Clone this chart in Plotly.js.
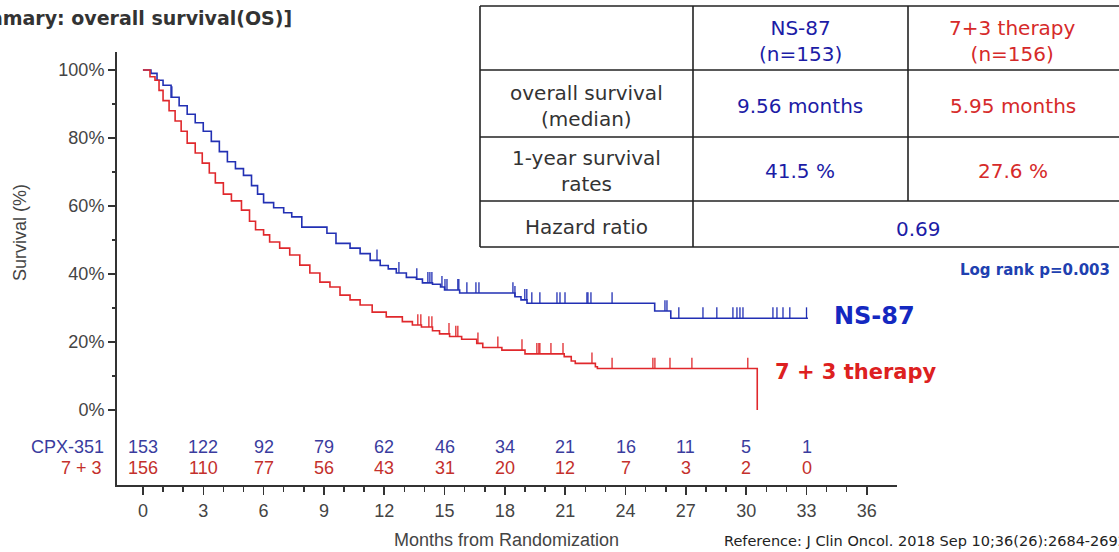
<!DOCTYPE html>
<html>
<head>
<meta charset="utf-8">
<script src="https://cdn.plot.ly/plotly-3.0.1.min.js"></script>
<style>html,body{margin:0;padding:0;background:#fff;}#chart{width:1119px;height:552px;}</style>
</head>
<body>
<div id="chart"></div>
<script>
// ---- data ----
const blueName = "NS-87";
const redName = "7 + 3 therapy";
const blueTimes = [0,0.4,0.7,1.0,1.4,1.8,2.2,2.6,3.0,3.4,3.8,4.2,4.6,5.0,5.4,5.7,6.0,6.5,7.0,7.4,7.9,9.15,9.6,10.3,10.8,11.3,11.8,12.2,12.6,13.1,13.6,13.9,14.4,14.8,15.0,15.75,18.5,18.8,19.1,25.45,26.25,33.07];
const blueSurv  = [100,99,97,95.5,92,89.5,87,84.5,82,79,76,73,71,69,66,63.5,61,59.5,58,56.8,53.8,52,49,47.6,46,44,42.5,41.5,40.3,39,38.5,37.4,37,36.2,35.3,34.4,33.3,32.4,31.4,29.1,27,27];
const redTimes = [0,0.35,0.6,0.8,1.0,1.3,1.6,1.9,2.2,2.6,2.95,3.3,3.6,4.0,4.4,4.9,5.3,5.6,6.0,6.3,6.8,7.3,7.8,8.3,8.8,9.3,9.8,10.3,10.8,11.4,12.1,12.9,13.4,13.85,14.4,14.75,15.25,15.85,16.6,16.9,17.85,19.0,20.95,21.3,21.5,22.5,22.6,30.55];
const redSurv  = [100,98,97,94,91,88,85,82,78.5,75.6,72.6,69.7,66.8,63.5,61.5,58.8,55.5,53,51.5,49.4,47.6,45.6,42.6,40.3,37.6,36.2,33.8,32.4,30.9,28.8,27.4,26,25,24.4,23.3,22.4,21.6,20.8,19.6,18.4,17.6,16.5,15.7,14.4,13.7,12.7,12.2,0];
const blueCensor = [1.44,11.64,12.73,13.62,14.17,14.27,14.37,14.87,15.02,15.12,15.66,15.71,16.11,16.56,16.71,18.4,18.5,18.99,19.09,19.34,19.74,20.59,20.74,20.99,22.08,22.13,22.28,23.33,25.96,26.06,26.65,27.85,28.54,29.34,29.54,29.69,29.84,31.33,31.53,31.83,32.17,33.0];
const redCensor = [13.67,13.82,14.22,14.37,15.22,15.56,15.66,16.66,17.65,18.85,19.59,19.69,19.74,20.29,20.89,22.33,23.33,25.36,25.46,26.21,27.3,30.08];

const riskMonths = [0,3,6,9,12,15,18,21,24,27,30,33];
const blueRisk = [153,122,92,79,62,46,34,21,16,11,5,1];
const redRisk  = [156,110,77,56,43,31,20,12,7,3,2,0];
const riskLabels = ["CPX-351", "7 + 3"];

const xTicks = [0,3,6,9,12,15,18,21,24,27,30,33,36];
const yTicks = [0,20,40,60,80,100];
const yTickText = ["0%","20%","40%","60%","80%","100%"];

const tableHeader = ["NS-87<br>(n=153)", "7+3 therapy<br>(n=156)"];
const tableRowLabels = ["overall survival<br>(median)", "1-year survival<br>rates", "Hazard ratio"];
const medianOS = ["9.56 months", "5.95 months"];
const oneYear = ["41.5 %", "27.6 %"];
const hazardRatio = "0.69";
const logRank = "Log rank p=0.003";
const titleText = "[Summary: overall survival(OS)]";
const refText = "Reference: J Clin Oncol. 2018 Sep 10;36(26):2684-2692";

// ---- styling ----
const BLUE = "#2230b4", RED = "#e0282c";
const TBLUE = "#1c1ca6", TRED = "#d62a2a";
const RBLUE = "#3a3c9e", RRED = "#c4302c";
const L = 117, R = 897, T = 52, B = 485;
const px2x = p => (p - L) / (R - L);
const py2y = p => (B - p) / (B - T);

function stepAt(times, surv, t) {
  let v = surv[0];
  for (let i = 0; i < times.length; i++) { if (times[i] <= t) v = surv[i]; }
  return v;
}
const tickLen = 3.2; // censor tick height in axis units (style)

function censorTrace(ct, times, surv, color) {
  return {
    x: ct, y: ct.map(t => stepAt(times, surv, t)),
    type: "scatter", mode: "markers", marker: {size: 1, opacity: 0, color: color},
    error_y: {type: "data", symmetric: false, array: ct.map(() => tickLen), arrayminus: ct.map(() => 0),
      width: 0, thickness: 1.3, color: color},
    showlegend: false, hoverinfo: "skip", cliponaxis: false
  };
}

const traces = [
  {x: blueTimes, y: blueSurv, type: "scatter", mode: "lines", line: {shape: "hv", color: BLUE, width: 1.6}, name: blueName, showlegend: false},
  {x: redTimes, y: redSurv, type: "scatter", mode: "lines", line: {shape: "hv", color: RED, width: 1.6}, name: redName, showlegend: false},
  censorTrace(blueCensor, blueTimes, blueSurv, BLUE),
  censorTrace(redCensor, redTimes, redSurv, RED)
];

const ann = [];
const axFont = {family: "Liberation Sans, Arial, sans-serif", size: 18};
function A(o) { return Object.assign({showarrow: false, xanchor: "center", yanchor: "middle", xref: "paper", yref: "paper"}, o); }
riskMonths.forEach((m, i) => {
  ann.push(A({x: m, y: -10.9, xref: "x", yref: "y", text: String(blueRisk[i]), font: Object.assign({}, axFont, {color: RBLUE})}));
  ann.push(A({x: m, y: -17.0, xref: "x", yref: "y", text: String(redRisk[i]), font: Object.assign({}, axFont, {color: RRED})}));
});
ann.push(A({x: px2x(106), y: -10.9, yref: "y", xanchor: "right", text: riskLabels[0], font: Object.assign({}, axFont, {color: RBLUE})}));
ann.push(A({x: px2x(104), y: -17.0, yref: "y", xanchor: "right", text: riskLabels[1], font: Object.assign({}, axFont, {color: RRED})}));
// axis titles
ann.push(A({x: px2x(20), y: py2y(233), text: "Survival (%)", textangle: -90, font: Object.assign({}, axFont, {color: "#444"})}));
ann.push(A({x: px2x(506), y: py2y(540), text: "Months from Randomization", font: Object.assign({}, axFont, {color: "#444"})}));
// title and reference
ann.push(A({x: px2x(294), y: py2y(18), xanchor: "right", text: titleText, font: {family: "DejaVu Sans", size: 19, color: "#333", weight: "bold"}}));
ann.push(A({x: px2x(722), y: py2y(541), xanchor: "left", text: refText, font: {family: "DejaVu Sans", size: 14.5, color: "#222"}}));
// curve labels
ann.push(A({x: px2x(832), y: py2y(316), xanchor: "left", text: "<b>NS-87</b>", font: {family: "DejaVu Sans", size: 24, color: "#1428c0"}}));
ann.push(A({x: px2x(773), y: py2y(372), xanchor: "left", text: "<b>7 + 3 therapy</b>", font: {family: "DejaVu Sans", size: 21, color: "#dd2020"}}));
ann.push(A({x: px2x(1112), y: py2y(270), xanchor: "right", text: "<b>" + logRank + "</b>", font: {family: "DejaVu Sans", size: 15, color: "#2040b0"}}));

// table
const tFont = (c) => ({family: "DejaVu Sans", size: 20, color: c});
const colC = [586, 800, 1013];
const rowC = [41, 106, 171, 227];
ann.push(A({x: px2x(colC[1]), y: py2y(rowC[0]), text: tableHeader[0], font: tFont(TBLUE)}));
ann.push(A({x: px2x(colC[2]), y: py2y(rowC[0]), text: tableHeader[1], font: tFont(TRED)}));
tableRowLabels.forEach((t, i) => ann.push(A({x: px2x(colC[0]), y: py2y(rowC[i + 1]), text: t, font: tFont("#333")})));
ann.push(A({x: px2x(colC[1]), y: py2y(rowC[1]), text: medianOS[0], font: tFont(TBLUE)}));
ann.push(A({x: px2x(colC[2]), y: py2y(rowC[1]), text: medianOS[1], font: tFont(TRED)}));
ann.push(A({x: px2x(colC[1]), y: py2y(rowC[2]), text: oneYear[0], font: tFont(TBLUE)}));
ann.push(A({x: px2x(colC[2]), y: py2y(rowC[2]), text: oneYear[1], font: tFont(TRED)}));
ann.push(A({x: px2x(919), y: py2y(229), text: hazardRatio, font: tFont(TBLUE)}));

const lineStyle = {color: "#222", width: 1.6};
const seg = (x0, y0, x1, y1) => ({type: "line", xref: "paper", yref: "paper", x0: px2x(x0), y0: py2y(y0), x1: px2x(x1), y1: py2y(y1), line: lineStyle});
const shapes = [
  seg(480, 6, 1119, 6), seg(480, 70, 1119, 70), seg(480, 137, 1119, 137), seg(480, 201, 1119, 201), seg(480, 247, 1119, 247),
  seg(480, 6, 480, 247), seg(693, 6, 693, 247), seg(908, 6, 908, 201)
];

const layout = {
  width: 1119, height: 552,
  margin: {l: L, r: 1119 - R, t: T, b: 552 - B, pad: 0},
  paper_bgcolor: "#fff", plot_bgcolor: "#fff",
  showlegend: false,
  xaxis: {
    range: [-1.29, 37.5], showgrid: false, zeroline: false,
    showline: true, linecolor: "#333", linewidth: 2,
    tickmode: "array", tickvals: xTicks, ticks: "outside", ticklen: 8, tickwidth: 1.5, tickcolor: "#333",
    minor: {tickmode: "array", tickvals: Array.from({length: 37}, (_, i) => i), ticks: "outside", ticklen: 5, tickwidth: 1.5, tickcolor: "#333"},
    tickfont: Object.assign({}, axFont, {color: "#444"})
  },
  yaxis: {
    range: [-22.06, 105.3], showgrid: false, zeroline: false,
    showline: true, linecolor: "#333", linewidth: 2,
    tickmode: "array", tickvals: yTicks, ticktext: yTickText, ticks: "outside", ticklen: 7, tickwidth: 1.5, tickcolor: "#333",
    minor: {tickmode: "array", tickvals: [10,30,50,70,90], ticks: "outside", ticklen: 3, tickwidth: 1.5, tickcolor: "#333"},
    tickfont: Object.assign({}, axFont, {color: "#444"})
  },
  annotations: ann,
  shapes: shapes
};

Plotly.newPlot("chart", traces, layout, {displayModeBar: false, staticPlot: true});
</script>
</body>
</html>
